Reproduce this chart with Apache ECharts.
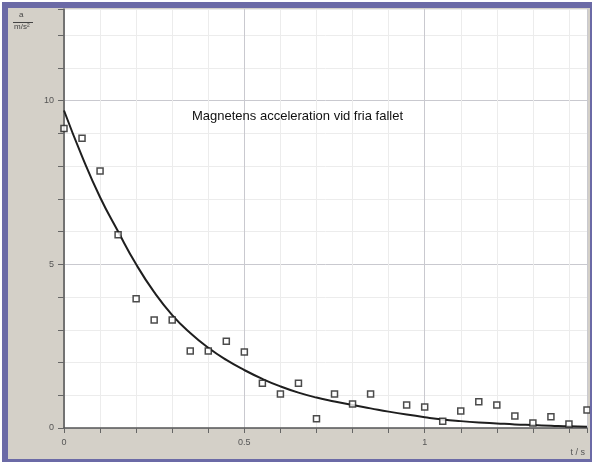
<!DOCTYPE html>
<html>
<head>
<meta charset="utf-8">
<script src="https://cdn.jsdelivr.net/npm/echarts@6/dist/echarts.min.js"></script>
<style>
html,body{margin:0;padding:0;background:#ffffff;width:592px;height:462px;overflow:hidden;}
#frame{position:absolute;left:2px;top:2px;width:590px;height:460px;background:#6b6aa6;}
#chart{position:absolute;left:8px;top:8px;width:582px;height:451px;background:#d4d0c8;}
</style>
</head>
<body>
<div id="frame"></div>
<div id="chart"></div>
<script>
// Measured points: time t (s), acceleration a (m/s^2)
const tPoints = [0, 0.05, 0.1, 0.15, 0.2, 0.25, 0.3, 0.35, 0.4, 0.45, 0.5, 0.55, 0.6, 0.65, 0.7, 0.75, 0.8, 0.85, 0.95, 1.0, 1.05, 1.1, 1.15, 1.2, 1.25, 1.3, 1.35, 1.4, 1.45];
const aPoints = [9.15, 8.85, 7.85, 5.9, 3.95, 3.3, 3.3, 2.35, 2.35, 2.65, 2.32, 1.37, 1.04, 1.37, 0.28, 1.04, 0.73, 1.04, 0.70, 0.64, 0.21, 0.52, 0.80, 0.70, 0.37, 0.15, 0.34, 0.12, 0.55];

// Fitted curve
const fitT = [0, 0.05, 0.1, 0.15, 0.2, 0.25, 0.3, 0.35, 0.4, 0.45, 0.5, 0.55, 0.6, 0.65, 0.7, 0.75, 0.8, 0.85, 0.9, 0.95, 1.0, 1.05, 1.1, 1.15, 1.2, 1.25, 1.3, 1.35, 1.4, 1.45];
const fitA = [9.7, 8.3, 7.05, 6.0, 5.0, 4.15, 3.45, 2.9, 2.45, 2.08, 1.77, 1.5, 1.27, 1.08, 0.93, 0.81, 0.7, 0.6, 0.5, 0.41, 0.33, 0.26, 0.21, 0.17, 0.14, 0.11, 0.09, 0.07, 0.05, 0.04];

const xLabels = ['0', '0.5', '1'];
const yLabels = ['0', '5', '10'];

const titleText = 'Magnetens acceleration vid fria fallet';
const xUnit = 't / s';
const yUnitTop = 'a';
const yUnitBottom = 'm/s²';

const FONT = "'Liberation Sans', Arial, sans-serif";
const scatterData = tPoints.map((t, i) => [t, aPoints[i]]);
const fitData = fitT.map((t, i) => [t, fitA[i]]);

const chart = echarts.init(document.getElementById('chart'), null, {renderer: 'canvas'});
chart.setOption({
  animation: false,
  backgroundColor: '#d4d0c8',
  title: {
    text: titleText,
    left: 179,
    top: 97,
    textStyle: {fontFamily: FONT, fontSize: 13, fontWeight: 'normal', color: '#111'}
  },
  grid: {left: 56, top: 1, right: 1, bottom: 31, show: true, backgroundColor: '#ffffff', borderWidth: 0},
  xAxis: {
    type: 'value', min: 0, max: 1.45, interval: 0.1,
    axisLine: {show: true, onZero: false, lineStyle: {color: '#555', width: 1.5}},
    axisTick: {show: true, length: 5, lineStyle: {color: '#666'}},
    axisLabel: {
      margin: 10, fontFamily: FONT, fontSize: 9, color: '#555',
      formatter: function (v) {
        const r = Math.round(v * 2) / 2;
        if (Math.abs(v - r) > 1e-6) return '';
        const s = String(r);
        return xLabels.indexOf(s) >= 0 ? s : '';
      }
    },
    splitLine: {show: true, lineStyle: {color: ['#c9c9cf', '#ececec', '#ececec', '#ececec', '#ececec'], width: 1}}
  },
  yAxis: {
    type: 'value', min: 0, max: 12.8, interval: 1,
    axisLine: {show: true, onZero: false, lineStyle: {color: '#555', width: 1.5}},
    axisTick: {show: true, length: 6, lineStyle: {color: '#666'}},
    axisLabel: {
      margin: 10, fontFamily: FONT, fontSize: 9, color: '#555',
      formatter: function (v) {
        const s = String(Math.round(v));
        if (Math.abs(v - Math.round(v)) > 1e-6) return '';
        return yLabels.indexOf(s) >= 0 ? s : '';
      }
    },
    splitLine: {show: true, lineStyle: {color: ['#c9c9cf', '#ececec', '#ececec', '#ececec', '#ececec'], width: 1}}
  },
  graphic: [
    {type: 'text', left: 11, top: 3, style: {text: yUnitTop, font: '8px ' + FONT, fill: '#444'}},
    {type: 'line', shape: {x1: 5, y1: 14.5, x2: 25, y2: 14.5}, style: {stroke: '#444', lineWidth: 1}},
    {type: 'text', left: 6, top: 15, style: {text: yUnitBottom, font: '8px ' + FONT, fill: '#444'}},
    {type: 'text', right: 5, top: 440, style: {text: xUnit, font: '9px ' + FONT, fill: '#555'}}
  ],
  series: [
    {
      type: 'line', data: fitData, smooth: 0.5, showSymbol: false, symbol: 'none',
      lineStyle: {color: '#1e1e1e', width: 2}, z: 2
    },
    {
      type: 'scatter', data: scatterData, symbol: 'rect', symbolSize: 6, clip: false,
      itemStyle: {color: '#ffffff', borderColor: '#1e1e1e', borderWidth: 1.5}, z: 3
    }
  ]
});
</script>
</body>
</html>
